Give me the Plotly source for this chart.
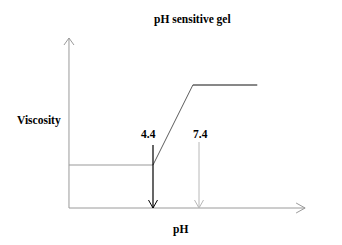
import plotly.graph_objects as go

# Schematic data (pH on x, viscosity in arbitrary units on y)
ph_curve = [-1.08, 4.4, 7.0, 11.2]
visc_curve = [43, 43, 123, 123]
ph_marks = [4.4, 7.4]
mark_labels = ["4.4", "7.4"]
mark_tops = [63, 66]
mark_colors = ["#000000", "#b8b8b8"]
axis_origin = (-1.08, 0)
x_axis_end = 14.32
y_axis_end = 170
title_text = "pH sensitive gel"
x_label = "pH"
y_label = "Viscosity"

FONT = dict(family="Liberation Serif, Times New Roman, serif", size=11.5, color="#000")
AX = "#9a9a9a"

fig = go.Figure()
ox, oy = axis_origin
# axes
fig.add_trace(go.Scatter(x=[ox, x_axis_end], y=[oy, oy], mode="lines",
                         line=dict(color=AX, width=1), hoverinfo="skip"))
fig.add_trace(go.Scatter(x=[ox, ox], y=[oy, y_axis_end], mode="lines",
                         line=dict(color=AX, width=1), hoverinfo="skip"))
# curve: low plateau grey, rise dark, high plateau black
fig.add_trace(go.Scatter(x=ph_curve[:2], y=visc_curve[:2], mode="lines",
                         line=dict(color="#999999", width=1)))
fig.add_trace(go.Scatter(x=ph_curve[1:3], y=visc_curve[1:3], mode="lines",
                         line=dict(color="#333333", width=0.8)))
fig.add_trace(go.Scatter(x=ph_curve[2:], y=visc_curve[2:], mode="lines",
                         line=dict(color="#111111", width=1)))
# vertical arrows
for p, top, c, lab in zip(ph_marks, mark_tops, mark_colors, mark_labels):
    fig.add_trace(go.Scatter(x=[p, p], y=[oy, top], mode="lines",
                             line=dict(color=c, width=1.2 if c == "#000000" else 1)))
    for dx in (-4.5, 4.5):
        fig.add_shape(type="line", xref="x", yref="y", xsizemode="pixel", ysizemode="pixel",
                      xanchor=p, yanchor=oy, x0=0, y0=0, x1=dx, y1=8,
                      line=dict(color=c, width=1))
fig.add_annotation(x=ph_marks[0], y=mark_tops[0], text="<b>" + mark_labels[0] + "</b>",
                   showarrow=False, xanchor="center", yanchor="bottom", xshift=-5, yshift=3, font=FONT)
fig.add_annotation(x=ph_marks[1], y=mark_tops[1], text="<b>" + mark_labels[1] + "</b>",
                   showarrow=False, xanchor="center", yanchor="bottom", xshift=1, yshift=0, font=FONT)
# axis arrowheads (open chevrons)
for dy in (-5, 5):
    fig.add_shape(type="line", xref="x", yref="y", xsizemode="pixel", ysizemode="pixel",
                  xanchor=x_axis_end, yanchor=oy, x0=0, y0=0, x1=-9, y1=dy,
                  line=dict(color=AX, width=1))
for dx in (-5, 5):
    fig.add_shape(type="line", xref="x", yref="y", xsizemode="pixel", ysizemode="pixel",
                  xanchor=ox, yanchor=y_axis_end, x0=0, y0=0, x1=dx, y1=-7,
                  line=dict(color=AX, width=1))
# labels
for tx, px, py in ((title_text, 192.5, 20), (x_label, 180, 229), (y_label, 39, 121)):
    fig.add_annotation(x=px / 342, y=1 - py / 245, xref="paper", yref="paper",
                       xanchor="center", yanchor="middle",
                       text="<b>" + tx + "</b>", showarrow=False, font=FONT)

fig.update_layout(width=342, height=245, margin=dict(l=0, r=0, t=0, b=0),
                  paper_bgcolor="white", plot_bgcolor="white", showlegend=False,
                  xaxis=dict(range=[-5.578, 16.726], visible=False, fixedrange=True),
                  yaxis=dict(range=[-37, 208], visible=False, fixedrange=True))
fig.write_html("out.html", config={"displayModeBar": False})
